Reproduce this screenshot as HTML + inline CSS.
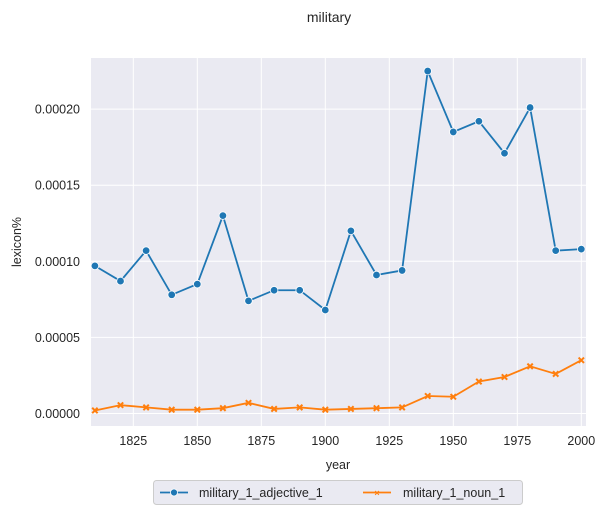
<!DOCTYPE html>
<html><head><meta charset="utf-8"><style>
body{margin:0;background:#fff;font-family:"Liberation Sans",Arial,sans-serif}
svg text{font-family:"Liberation Sans",Arial,sans-serif;fill:#262626}
</style></head><body>
<svg id="chart" width="606" height="515" xmlns="http://www.w3.org/2000/svg">
<text x="329" y="22" font-size="14" text-anchor="middle">military</text>
<rect x="91" y="58" width="495" height="368" fill="#eaeaf2"/>
<g id="grid"></g><g id="ticks"></g><g id="series"></g>
<text x="338" y="469" font-size="12.5" text-anchor="middle">year</text>
<text transform="translate(21,242) rotate(-90)" font-size="12.5" text-anchor="middle">lexicon%</text>
<g>
<rect x="153.5" y="480.5" width="369" height="24" rx="3" fill="#eaeaf2" stroke="#cccccc"/>
<g>
<line x1="160" y1="492.5" x2="188" y2="492.5" stroke="#1f77b4" stroke-width="1.8"/>
<circle cx="174" cy="492.5" r="3.5" fill="#1f77b4" stroke="#fff" stroke-width="0.8"/>
<text x="199" y="497" font-size="12.5">military_1_adjective_1</text></g>
<g>
<line x1="363" y1="492.5" x2="391" y2="492.5" stroke="#ff7f0e" stroke-width="1.8"/>
<text x="377" y="496" font-size="9" text-anchor="middle" style="fill:#ff7f0e;font-weight:bold">×</text>
<text x="403" y="497" font-size="12.5">military_1_noun_1</text></g>
</g>
</svg>
<script>
const years=[1810,1820,1830,1840,1850,1860,1870,1880,1890,1900,1910,1920,1930,1940,1950,1960,1970,1980,1990,2000];
const adjective=[0.000097,0.000087,0.000107,0.000078,0.000085,0.000130,0.000074,0.000081,0.000081,0.000068,0.000120,0.000091,0.000094,0.000225,0.000185,0.000192,0.000171,0.000201,0.000107,0.000108];
const noun=[0.000002,0.0000055,0.000004,0.0000025,0.0000025,0.0000035,0.000007,0.000003,0.000004,0.0000025,0.000003,0.0000035,0.000004,0.0000115,0.000011,0.000021,0.000024,0.000031,0.000026,0.000035];
const xTicks=[1825,1850,1875,1900,1925,1950,1975,2000];
const yTicks=[0,0.00005,0.0001,0.00015,0.0002];
const yTickLabels=["0.00000","0.00005","0.00010","0.00015","0.00020"];
const NS="http://www.w3.org/2000/svg";
const X=v=>133.3+(v-1825)*2.56;
const Y=v=>413.5-v/0.00005*76.1;
function mk(tag,attrs,parent){const e=document.createElementNS(NS,tag);for(const k in attrs)e.setAttribute(k,attrs[k]);parent.appendChild(e);return e;}
const grid=document.getElementById('grid'),ticks=document.getElementById('ticks'),series=document.getElementById('series');
xTicks.forEach(t=>{
 const l=mk('line',{x1:X(t),x2:X(t),y1:58,y2:426,stroke:'#fff','stroke-width':1},grid);
 
 
 const tx=mk('text',{x:X(t),y:445,'font-size':12.5,'text-anchor':'middle'},ticks);tx.textContent=t;
 
 
});
yTicks.forEach((t,i)=>{
 const l=mk('line',{x1:91,x2:586,y1:Y(t),y2:Y(t),stroke:'#fff','stroke-width':1},grid);
 
 
 const tx=mk('text',{x:80,y:Y(t)+4.5,'font-size':12.5,'text-anchor':'end'},ticks);tx.textContent=yTickLabels[i];
 
 
});
function draw(vals,color,name,marker){
 const p=mk('polyline',{points:vals.map((v,i)=>X(years[i])+','+Y(v)).join(' '),fill:'none',stroke:color,'stroke-width':1.8},series);
 
 
 vals.forEach((v,i)=>{
  let m;
  if(marker==='o'){m=mk('circle',{cx:X(years[i]),cy:Y(v),r:3.8,fill:color,stroke:'#fff','stroke-width':0.8},series);}
  else{const x=X(years[i]),y=Y(v),d=2.7;
   m=mk('path',{d:`M${x-d},${y-d}L${x+d},${y+d}M${x-d},${y+d}L${x+d},${y-d}`,stroke:color,'stroke-width':2,fill:'none'},series);}
  
  
 });
}
draw(adjective,'#1f77b4','adjective','o');
draw(noun,'#ff7f0e','noun','x');
</script>
</body></html>
